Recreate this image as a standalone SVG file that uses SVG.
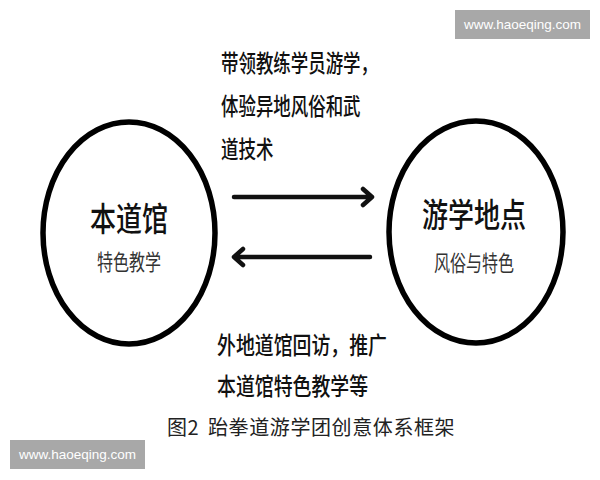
<svg xmlns="http://www.w3.org/2000/svg" width="600" height="480" viewBox="0 0 600 480">
<style>
.cjk{font-family:"Noto Sans CJK SC","Noto Sans",sans-serif;fill:#111}
.node{fill:#fff;stroke:#000;stroke-width:5.5}
.lbl{font-size:26px;text-anchor:middle;font-weight:500}
.sub{font-size:16px;text-anchor:middle;fill:#333}
.desc{font-size:18px;fill:#111;font-weight:500}
.conn{stroke:#111;stroke-width:4.5;fill:none;stroke-linecap:round;stroke-linejoin:round}
.cap{font-size:20px;fill:#222;letter-spacing:0.6px}
.wm rect{fill:#a8a8a8}
.wm text{font-family:"Liberation Sans",Arial,sans-serif;font-size:13.5px;fill:#fff;text-anchor:middle}
</style>
<rect width="600" height="480" fill="#fff"/>
<g class="wm"><rect x="455" y="10" width="135" height="29"/><text x="522.5" y="29">www.haoeqing.com</text></g>
<g class="wm"><rect x="10" y="440" width="135" height="29"/><text x="77.5" y="459">www.haoeqing.com</text></g>
<g id="node-dojo">
<ellipse class="node" cx="129" cy="233" rx="86" ry="111"/>
<text class="cjk lbl" transform="translate(129,231) scale(1,1.25)">本道馆</text>
<text class="cjk sub" transform="translate(129,270) scale(1,1.35)">特色教学</text>
</g>
<g id="node-site">
<ellipse class="node" cx="476" cy="232" rx="87" ry="111"/>
<text class="cjk lbl" transform="translate(474,227) scale(1,1.25)">游学地点</text>
<text class="cjk sub" transform="translate(474,271) scale(1,1.35)">风俗与特色</text>
</g>
<g id="connectors">
<path class="conn" d="M234,197 H372 M363,189 L372,197 L363,205"/>
<path class="conn" d="M370,257 H234 M243,249 L234,257 L243,265"/>
</g>
<g id="labels">
<text class="cjk desc" transform="translate(221,72) scale(0.97,1.3)">带领教练学员游学，</text>
<text class="cjk desc" transform="translate(221,115) scale(0.97,1.3)">体验异地风俗和武</text>
<text class="cjk desc" transform="translate(221,158) scale(0.97,1.3)">道技术</text>
<text class="cjk desc" transform="translate(217,354) scale(1.05,1.3)">外地道馆回访，推广</text>
<text class="cjk desc" transform="translate(217,395) scale(1.05,1.3)">本道馆特色教学等</text>
</g>
<g id="caption">
<text class="cjk cap" x="167" y="435">图2</text>
<text class="cjk cap" x="208" y="435">跆拳道游学团创意体系框架</text>
</g>
</svg>
